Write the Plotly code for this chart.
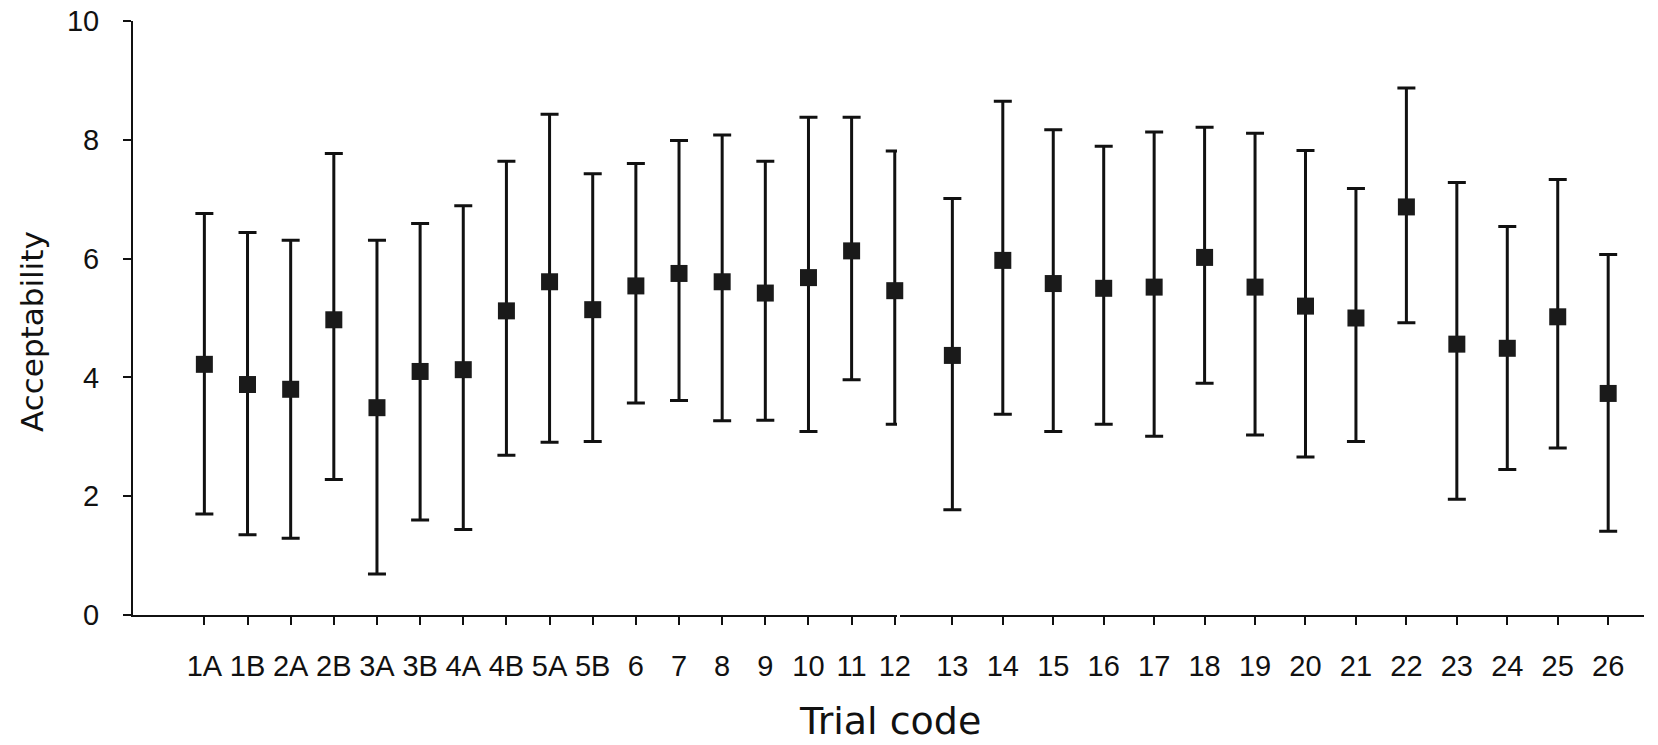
import plotly.graph_objects as go

# ---- data ----
labels_a = ["1A", "1B", "2A", "2B", "3A", "3B", "4A", "4B", "5A", "5B",
            "6", "7", "8", "9", "10", "11", "12"]
mean_a = [4.22, 3.88, 3.80, 4.97, 3.49, 4.10, 4.13, 5.12, 5.61, 5.14,
          5.54, 5.75, 5.61, 5.42, 5.68, 6.13, 5.46]
upper_a = [6.76, 6.44, 6.31, 7.77, 6.31, 6.59, 6.89, 7.64, 8.43, 7.43,
           7.60, 7.99, 8.08, 7.64, 8.38, 8.38, 7.81]
lower_a = [1.70, 1.35, 1.29, 2.28, 0.69, 1.60, 1.44, 2.69, 2.91, 2.92,
           3.57, 3.61, 3.27, 3.28, 3.09, 3.96, 3.21]

labels_b = ["13", "14", "15", "16", "17", "18", "19", "20", "21", "22",
            "23", "24", "25", "26"]
mean_b = [4.37, 5.97, 5.58, 5.50, 5.52, 6.02, 5.52, 5.20, 5.00, 6.87,
          4.56, 4.49, 5.02, 3.73]
upper_b = [7.01, 8.65, 8.17, 7.89, 8.13, 8.21, 8.11, 7.82, 7.18, 8.87,
           7.28, 6.54, 7.33, 6.07]
lower_b = [1.77, 3.38, 3.09, 3.21, 3.01, 3.90, 3.03, 2.66, 2.92, 4.92,
           1.95, 2.45, 2.81, 1.41]

y_ticks = [0, 2, 4, 6, 8, 10]

INK = "#111111"
TICK_FONT = dict(family="Liberation Sans, Arial, sans-serif", size=29, color=INK)
TITLE_FAMILY = "DejaVu Sans, Arial, sans-serif"


def err(mean, upper, lower):
    plus = [u - m for u, m in zip(upper, mean)]
    minus = [m - l for m, l in zip(mean, lower)]
    return dict(type="data", symmetric=False, array=plus, arrayminus=minus,
                color=INK, thickness=3, width=9)


fig = go.Figure()
fig.add_trace(go.Scatter(
    x=labels_a, y=mean_a, mode="markers", xaxis="x", yaxis="y",
    marker=dict(symbol="square", size=17, color="#1a1a1a"),
    error_y=err(mean_a, upper_a, lower_a), cliponaxis=False,
    showlegend=False, hoverinfo="skip"))
fig.add_trace(go.Scatter(
    x=labels_b, y=mean_b, mode="markers", xaxis="x2", yaxis="y",
    marker=dict(symbol="square", size=17, color="#1a1a1a"),
    error_y=err(mean_b, upper_b, lower_b), cliponaxis=False,
    showlegend=False, hoverinfo="skip"))

W, H = 1658, 745
ML, MR, MT, MB = 133, 0, 21, 130
plot_w = W - ML - MR
plot_h = H - MT - MB

split_a = (904 - ML) / plot_w
split_b = (907 - ML) / plot_w

xaxis_common = dict(
    type="category", showline=True, linecolor=INK, linewidth=2,
    ticks="outside", ticklen=8, tickwidth=2, tickcolor=INK,
    tickfont=TICK_FONT, ticklabelstandoff=16, showgrid=False,
    zeroline=False, fixedrange=True, anchor="y")

fig.update_layout(
    width=W, height=H,
    margin=dict(l=ML, r=MR, t=MT, b=MB, pad=0),
    paper_bgcolor="white", plot_bgcolor="white",
    xaxis=dict(domain=[0, split_a], range=[-1.654, 16.05], **xaxis_common),
    xaxis2=dict(domain=[split_b, 1], range=[-1.04, 13.71], **xaxis_common),
    yaxis=dict(range=[0, 10], tickvals=y_ticks, showline=True, linecolor=INK,
               linewidth=2, ticks="outside", ticklen=8, tickwidth=2,
               tickcolor=INK, tickfont=TICK_FONT, ticklabelstandoff=18,
               showgrid=False, zeroline=False, fixedrange=True, anchor="x"),
    annotations=[
        dict(text="Acceptability", xref="paper", yref="paper",
             x=(31 - ML) / plot_w, y=(MT + plot_h - 331) / plot_h,
             xanchor="center", yanchor="middle", textangle=-90,
             showarrow=False,
             font=dict(family=TITLE_FAMILY, size=31, color=INK)),
        dict(text="Trial code", xref="paper", yref="paper",
             x=(897 - ML) / plot_w, y=(MT + plot_h - 721) / plot_h,
             xanchor="center", yanchor="middle", showarrow=False,
             font=dict(family=TITLE_FAMILY, size=38, color=INK)),
    ],
    hovermode=False,
)

fig.write_html("out.html", config={"displayModeBar": False})
